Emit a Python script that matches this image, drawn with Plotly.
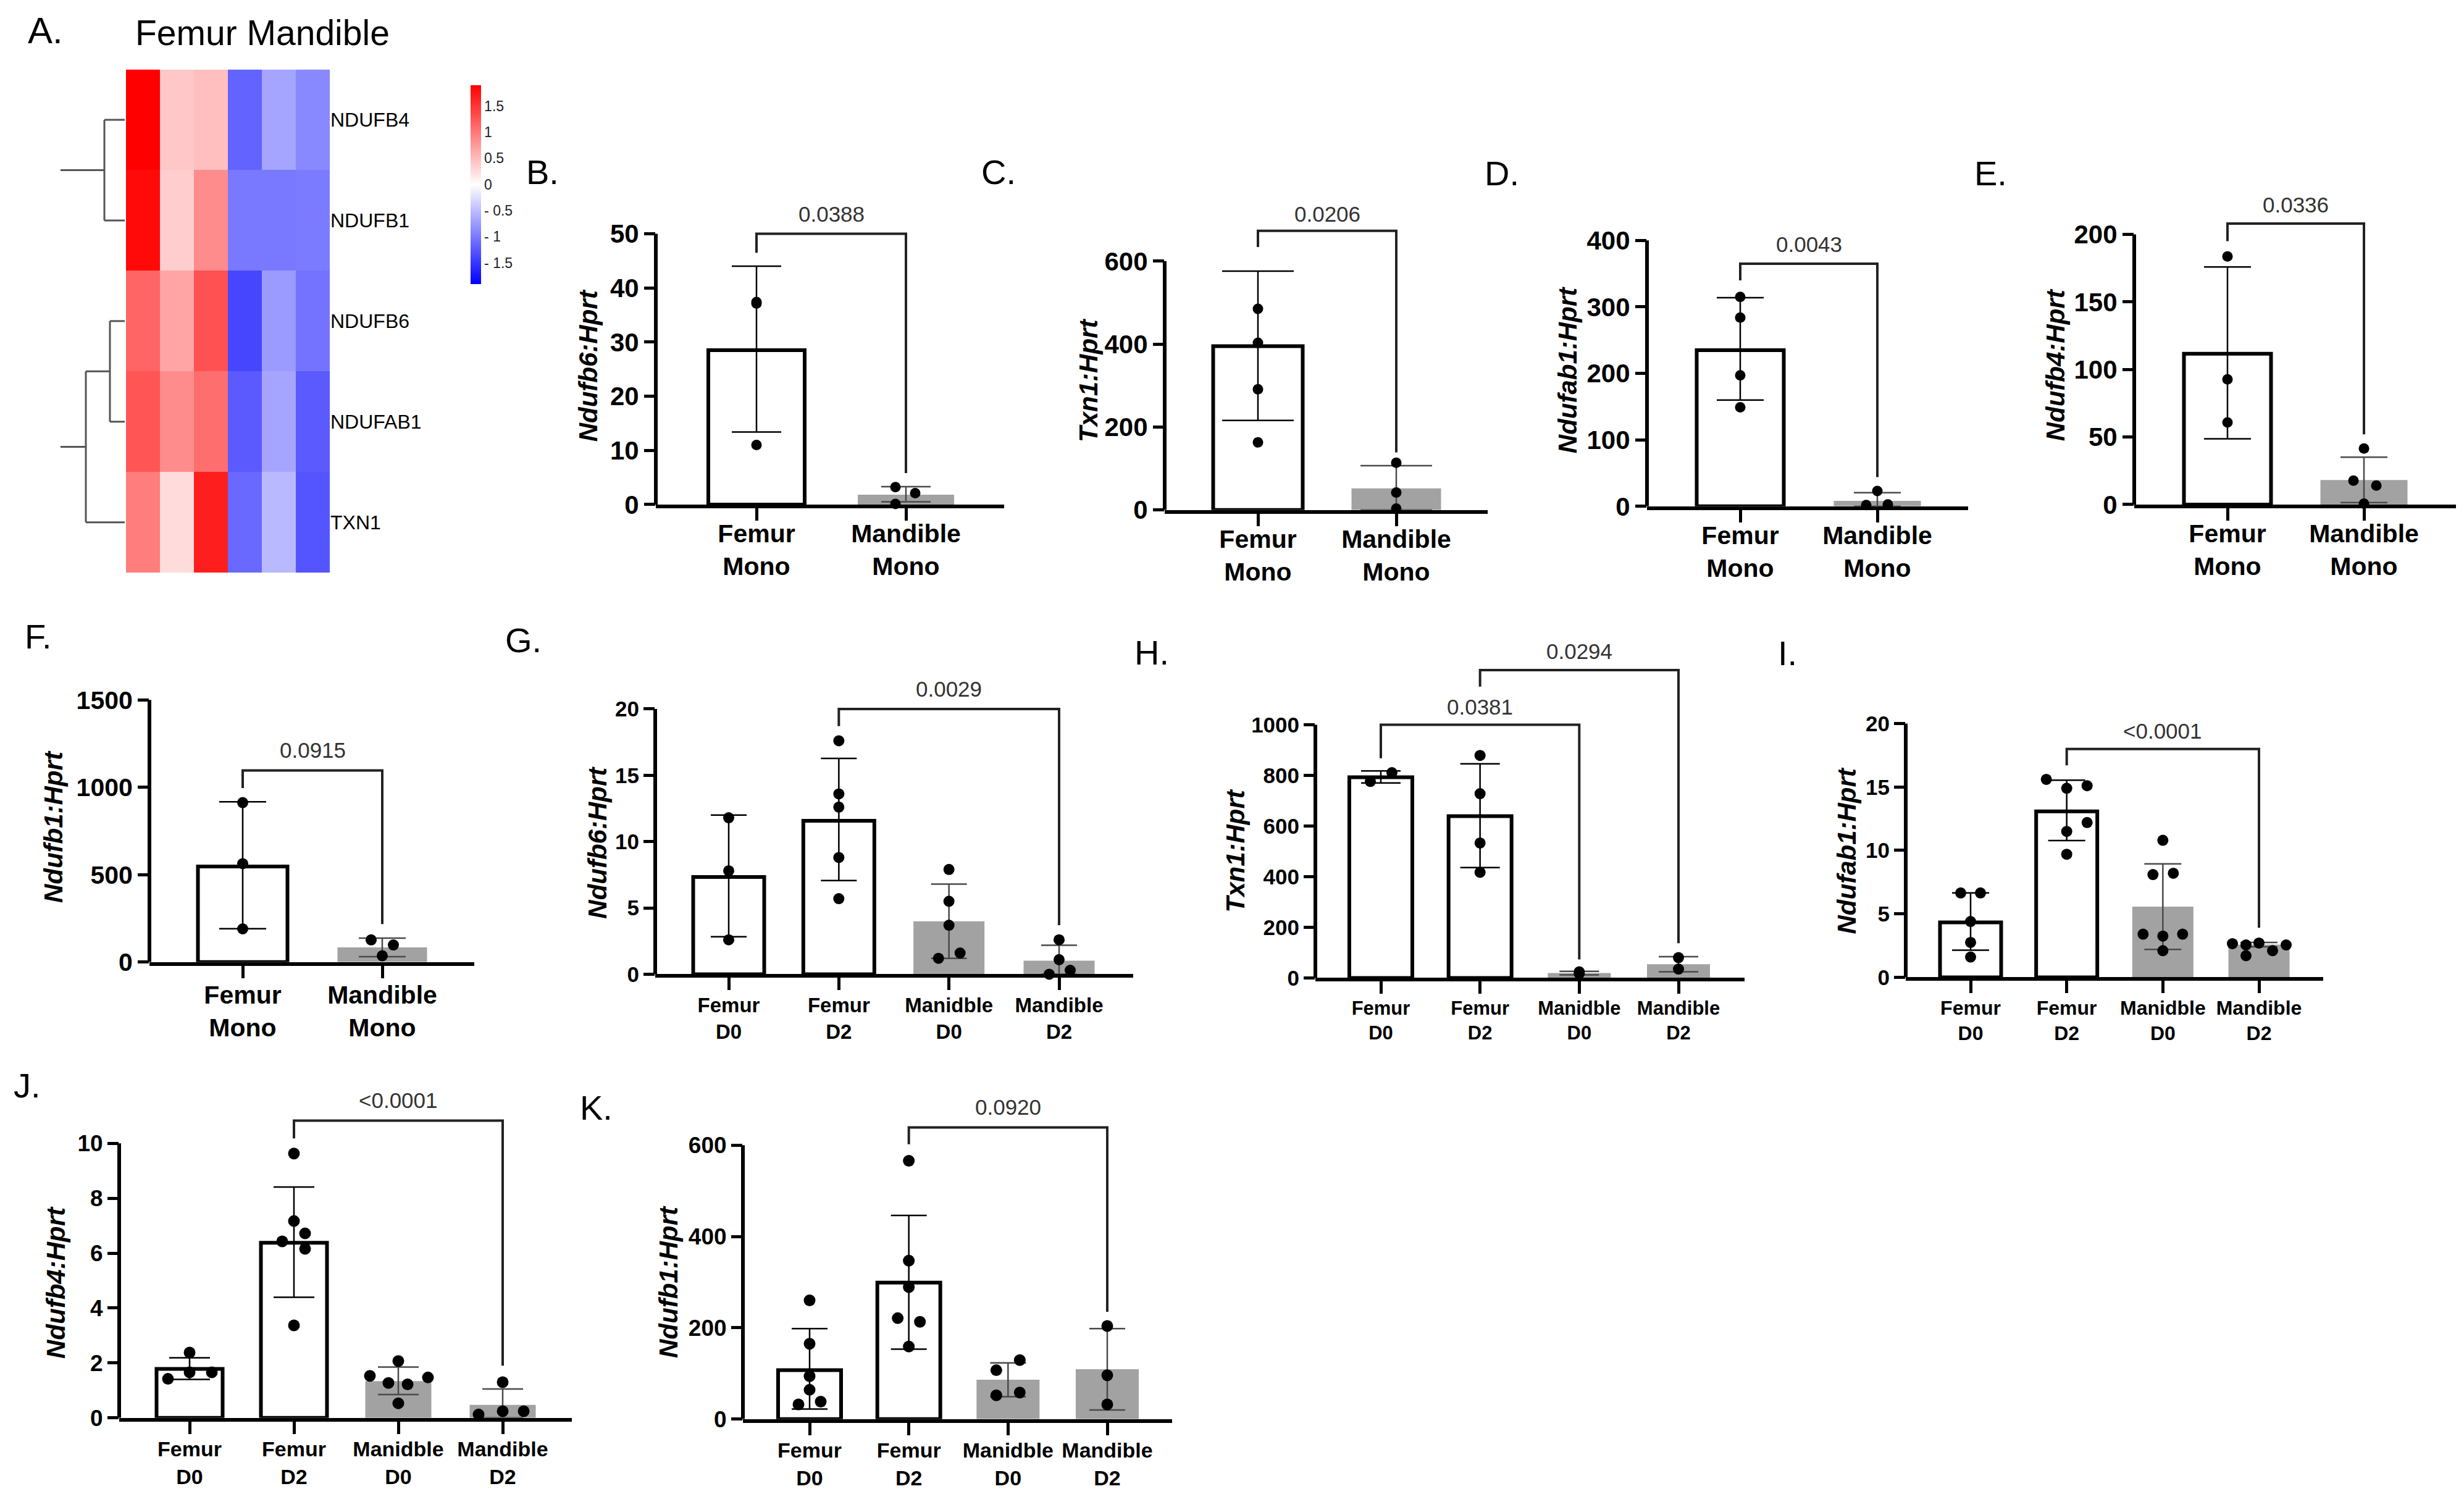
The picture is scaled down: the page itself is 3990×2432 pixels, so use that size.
import plotly.graph_objects as go

W, H = 3990, 2432
FONT = "Liberation Sans, Arial, Helvetica, sans-serif"

# ---------------- heatmap data (panel A) ----------------
genes = ["NDUFB4", "NDUFB1", "NDUFB6", "NDUFAB1", "TXN1"]
heat_z = [
    [1.90, 0.42, 0.48, -1.16, -0.67, -0.89],
    [1.83, 0.37, 0.86, -1.00, -1.00, -0.98],
    [1.15, 0.67, 1.30, -1.38, -0.75, -1.04],
    [1.27, 0.86, 1.08, -1.23, -0.67, -1.23],
    [0.97, 0.26, 1.68, -1.12, -0.52, -1.27],
]
cbar_vals = [1.5, 1, 0.5, 0, -0.5, -1, -1.5]
cbar_text = ["1.5", "1", "0.5", "0", "- 0.5", "- 1", "- 1.5"]
dend_merges = [(0, 1, 3.3), (2, 3, 2.4), (6, 4, 6.3)]   # leaves 0-4, clusters 5,6,7
dend_root = 10.4

# ---------------- bar chart data ----------------
mono_labels = ["Femur<br>Mono", "Mandible<br>Mono"]
day_labels = ["Femur<br>D0", "Femur<br>D2", "Manidble<br>D0", "Mandible<br>D2"]

B_mean = [28.5, 1.8]
B_hi = [44.0, 3.3]
B_lo = [13.4, 0.5]
B_pts = [[37.4, 37.1, 11.0], [3.2, 2.1, 0.1]]

C_mean = [395, 52]
C_hi = [576, 107]
C_lo = [216, 0]
C_pts = [[485, 403, 291, 163], [114, 42, 3.5]]

D_mean = [235, 8.3]
D_hi = [314, 20.6]
D_lo = [160, 0]
D_pts = [[315, 284, 197, 149], [23, 2, 3]]

E_mean = [111.6, 18.1]
E_hi = [175.9, 35.1]
E_lo = [48.7, 1.5]
E_pts = [[183.6, 92.7, 60.8], [41.4, 17.7, 14.0, 0.6]]

F_mean = [547, 84]
F_hi = [917, 137]
F_lo = [191, 31]
F_pts = [[912, 563, 190], [127, 98, 36]]

G_mean = [7.33, 11.57, 3.99, 1.02]
G_hi = [12.0, 16.27, 6.8, 2.19]
G_lo = [2.83, 7.06, 1.2, 0]
G_pts = [[11.8, 7.8, 2.6], [17.6, 13.6, 12.6, 8.8, 5.7],
         [7.9, 5.5, 3.7, 1.2, 1.6], [2.6, 1.1, 0.0, 0.3]]

H_mean = [793, 639, 19, 54]
H_hi = [818, 846, 26, 84]
H_lo = [770, 436, 12, 24]
H_pts = [[776, 811], [879, 728, 533, 417], [24, 17], [80, 35]]

I_mean = [4.33, 13.08, 5.57, 2.57]
I_hi = [6.65, 15.54, 8.94, 2.74]
I_lo = [2.14, 10.78, 2.2, 2.4]
I_pts = [[6.65, 6.65, 4.4, 2.75, 1.6], [15.6, 15.1, 14.9, 12.2, 11.5, 9.7],
         [10.8, 8.1, 8.2, 3.4, 3.25, 3.4, 2.1], [2.65, 2.55, 2.7, 2.1, 2.55, 1.7]]

J_mean = [1.78, 6.38, 1.34, 0.47]
J_hi = [2.19, 8.41, 1.85, 1.05]
J_lo = [1.40, 4.39, 0.85, 0.0]
J_pts = [[2.38, 1.42, 1.66, 1.66], [9.63, 7.17, 6.72, 6.43, 6.16, 3.37],
         [2.07, 1.53, 1.47, 1.27, 1.22, 0.53], [1.3, 0.24, 0.24, 0.12]]

K_mean = [107, 299, 86, 109]
K_hi = [198, 446, 123, 198]
K_lo = [22, 153, 49, 20]
K_pts = [[260, 165, 94, 64, 38, 32], [566, 347, 289, 221, 213, 159],
         [129, 107, 58, 52], [204, 96, 32]]

# p-value labels
B_p = ["0.0388"]
C_p = ["0.0206"]
D_p = ["0.0043"]
E_p = ["0.0336"]
F_p = ["0.0915"]
G_p = ["0.0029"]
H_p = ["0.0381", "0.0294"]
I_p = ["&lt;0.0001"]
J_p = ["&lt;0.0001"]
K_p = ["0.0920"]

# ---------------- layout / style (positions, not data) ----------------
# point horizontal offsets in px (scatter-dot spreading)
B_jit = [[0, 0, 0], [-17, 15, -17]]
C_jit = [[0, 0, 0, 0], [0, 0, 0]]
D_jit = [[0, 0, 0, 0], [0, -18, 17]]
E_jit = [[0, 0, 0], [0, -17, 20, 0]]
F_jit = [[0, 0, 0], [-18, 18, 0]]
G_jit = [[0, 0, 0], [0, 0, 0, 0, 0], [0, 0, 0, -17, 18], [0, 0, -16, 18]]
H_jit = [[-17, 18], [0, 0, 0, 0], [0, 0], [0, 0]]
I_jit = [[-16, 16, 0, 0, 0], [-33, 33, 0, 33, 0, 0],
         [0, -16, 17, -32, 0, 32, 0], [-43, -21, 0, 22, 44, -21]]
J_jit = [[0, -35, 0, 36], [0, 0, 18, -19, 18, 0], [0, -46, 48, -16, 15, 0], [0, 34, 0, -39]]
K_jit = [[0, 0, 0, 0, 18, -18], [0, 0, 0, -18, 18, 0], [19, -19, 19, -19], [0, 0, 0]]

# brackets: (i1, i2, y_bar, left_leg_end, right_leg_end, y_text)
B_brk = [(0, 1, 50, 46.5, 5.8, 53.7)]
C_brk = [(0, 1, 673, 634, 139, 714)]
D_brk = [(0, 1, 365, 340, 44, 394)]
E_brk = [(0, 1, 208, 195, 52, 222)]
F_brk = [(0, 1, 1096, 995, 217, 1211)]
G_brk = [(1, 3, 20, 18.7, 3.7, 21.5)]
H_brk = [(0, 2, 1000, 868, 73, 1071), (1, 3, 1216, 1151, 137, 1291)]
I_brk = [(1, 3, 18.0, 16.7, 3.9, 19.4)]
J_brk = [(1, 3, 10.83, 10.18, 1.9, 11.58)]
K_brk = [(1, 3, 639, 602, 235, 684)]

panels = [
    dict(ylab="Ndufb6:Hprt", cats=mono_labels, mean=B_mean, hi=B_hi, lo=B_lo, pts=B_pts, jit=B_jit,
         brk=B_brk, pv=B_p, tmax=50, dt=10, xl=1062, xr=1626, y0=817, yt=372, cx=[1225, 1467],
         bw=156, cap=40, dot=17, tf=42, cf=41, tt=(952, 589), so=-14),
    dict(ylab="Txn1:Hprt", cats=mono_labels, mean=C_mean, hi=C_hi, lo=C_lo, pts=C_pts, jit=C_jit,
         brk=C_brk, pv=C_p, tmax=600, dt=200, xl=1886, xr=2409, y0=826, yt=417, cx=[2037, 2261],
         bw=145, cap=58, dot=17, tf=42, cf=41, tt=(1763, 613), so=-14),
    dict(ylab="Ndufab1:Hprt", cats=mono_labels, mean=D_mean, hi=D_hi, lo=D_lo, pts=D_pts, jit=D_jit,
         brk=D_brk, pv=D_p, tmax=400, dt=100, xl=2667, xr=3187, y0=820, yt=383, cx=[2818, 3040],
         bw=141, cap=38, dot=17, tf=42, cf=41, tt=(2538, 596), so=-14),
    dict(ylab="Ndufb4:Hprt", cats=mono_labels, mean=E_mean, hi=E_hi, lo=E_lo, pts=E_pts, jit=E_jit,
         brk=E_brk, pv=E_p, tmax=200, dt=50, xl=3456, xr=3977, y0=817, yt=373, cx=[3607, 3828],
         bw=141, cap=38, dot=17, tf=42, cf=41, tt=(3328, 588), so=-14),
    dict(ylab="Ndufb1:Hprt", cats=mono_labels, mean=F_mean, hi=F_hi, lo=F_lo, pts=F_pts, jit=F_jit,
         brk=F_brk, pv=F_p, tmax=1500, dt=500, xl=242, xr=768, y0=1569, yt=1138, cx=[393, 619],
         bw=145, cap=38, dot=18, tf=41, cf=41, tt=(86, 1347), so=-8),
    dict(ylab="Ndufb6:Hprt", cats=day_labels, mean=G_mean, hi=G_hi, lo=G_lo, pts=G_pts, jit=G_jit,
         brk=G_brk, pv=G_p, tmax=20, dt=5, xl=1061, xr=1835, y0=1589, yt=1153,
         cx=[1180, 1358, 1537, 1715], bw=115, cap=29, dot=18, tf=35, cf=33, tt=(968, 1373), so=-4),
    dict(ylab="Txn1:Hprt", cats=day_labels, mean=H_mean, hi=H_hi, lo=H_lo, pts=H_pts, jit=H_jit,
         brk=H_brk, pv=H_p, tmax=1000, dt=200, xl=2130, xr=2825, y0=1595, yt=1179,
         cx=[2236, 2396, 2558, 2718], bw=102, cap=32, dot=18, tf=35, cf=31, tt=(2000, 1386), so=-4),
    dict(ylab="Ndufab1:Hprt", cats=day_labels, mean=I_mean, hi=I_hi, lo=I_lo, pts=I_pts, jit=I_jit,
         brk=I_brk, pv=I_p, tmax=20, dt=5, xl=3086, xr=3762, y0=1594, yt=1177,
         cx=[3191, 3347, 3502, 3658], bw=99, cap=30, dot=18, tf=35, cf=32, tt=(2990, 1386), so=-4),
    dict(ylab="Ndufb4:Hprt", cats=day_labels, mean=J_mean, hi=J_hi, lo=J_lo, pts=J_pts, jit=J_jit,
         brk=J_brk, pv=J_p, tmax=10, dt=2, xl=193, xr=926, y0=2318, yt=1867,
         cx=[307, 476, 644, 814], bw=107, cap=33, dot=19, tf=37, cf=34, tt=(91, 2096), so=-4),
    dict(ylab="Ndufb1:Hprt", cats=day_labels, mean=K_mean, hi=K_hi, lo=K_lo, pts=K_pts, jit=K_jit,
         brk=K_brk, pv=K_p, tmax=600, dt=200, xl=1203, xr=1898, y0=2320, yt=1870,
         cx=[1311, 1471, 1631, 1793], bw=102, cap=29, dot=19, tf=37, cf=34, tt=(1083, 2095), so=-4),
]

letters = [("B.", 850, 270), ("C.", 1587, 270), ("D.", 2402, 273), ("E.", 3195, 273),
           ("F.", 38, 1034), ("G.", 816, 1040), ("H.", 1835, 1060), ("I.", 2877, 1061),
           ("J.", 20, 1772), ("K.", 937, 1808)]

GRAY = "#a2a2a2"


def py(p):
    return 1 - p / H


fig = go.Figure()
layout = dict(width=W, height=H, margin=dict(l=0, r=0, t=0, b=0),
              paper_bgcolor="white", plot_bgcolor="rgba(0,0,0,0)", showlegend=False,
              font=dict(family=FONT, color="black"))
shapes, annotations = [], []

# ---------------- Panel A heatmap ----------------
fig.add_trace(go.Heatmap(
    z=heat_z, x=list(range(6)), y=list(range(len(genes))),
    colorscale=[[0, "rgb(0,0,255)"], [0.5, "rgb(255,255,255)"], [1, "rgb(255,0,0)"]],
    zmin=-1.9, zmax=1.9, xaxis="x", yaxis="y", hoverinfo="skip",
    colorbar=dict(x=762 / W, xanchor="left", y=py(291), yanchor="middle",
                  len=322, lenmode="pixels", thickness=17, thicknessmode="pixels",
                  xpad=0, ypad=0, outlinewidth=0, tickvals=cbar_vals, ticktext=cbar_text,
                  ticks="", tickfont=dict(size=23, family=FONT, color="#222"))))
layout["xaxis"] = dict(domain=[204 / W, 534 / W], range=[-0.5, 5.5], visible=False, anchor="y")
layout["yaxis"] = dict(domain=[py(929), py(102)], range=[4.5, -0.5], side="right", anchor="x",
                       tickvals=list(range(len(genes))), ticktext=genes, ticks="",
                       showline=False, showgrid=False, zeroline=False,
                       tickfont=dict(size=32, family=FONT, color="black"))

# dendrogram
pos = {i: float(i) for i in range(len(genes))}
hgt = {i: 0.0 for i in range(len(genes))}
dx, dy = [], []
used = set()
for k, (a, b, h) in enumerate(dend_merges):
    cid = len(genes) + k
    for c in (a, b):
        dx += [hgt[c], h, None]
        dy += [pos[c], pos[c], None]
        used.add(c)
    dx += [h, h, None]
    dy += [pos[a], pos[b], None]
    pos[cid] = (pos[a] + pos[b]) / 2
    hgt[cid] = h
for cid in pos:
    if cid not in used and cid >= len(genes):
        dx += [hgt[cid], dend_root, None]
        dy += [pos[cid], pos[cid], None]
fig.add_trace(go.Scatter(x=dx, y=dy, mode="lines", line=dict(color="#555", width=3),
                         xaxis="x2", yaxis="y2", hoverinfo="skip"))
layout["xaxis2"] = dict(domain=[96 / W, 202 / W], range=[dend_root + 0.2, 0], visible=False, anchor="y2")
layout["yaxis2"] = dict(domain=[py(929), py(102)], range=[4.5, -0.5], visible=False, anchor="x2")

annotations.append(dict(text="Femur Mandible", x=217 / W, y=py(42), xref="paper", yref="paper",
                        xanchor="left", yanchor="middle", showarrow=False,
                        font=dict(size=57, family=FONT, color="black")))
annotations.append(dict(text="A.", x=43 / W, y=py(38), xref="paper", yref="paper",
                        xanchor="left", yanchor="middle", showarrow=False,
                        font=dict(size=60, family=FONT, color="black")))

# ---------------- bar panels ----------------
for k, p in enumerate(panels):
    ax = k + 3
    xa, ya = f"x{ax}", f"y{ax}"
    n = len(p["cats"])
    sp = (p["cx"][-1] - p["cx"][0]) / (n - 1)
    xr = [(p["xl"] - p["cx"][0]) / sp, (n - 1) + (p["xr"] - p["cx"][-1]) / sp]
    top_val = max([p["tmax"]] + [b[2] for b in p["brk"]]) * 1.025
    pxv = (p["y0"] - p["yt"]) / p["tmax"]          # px per data unit
    ytop_px = p["y0"] - pxv * top_val
    femur = [("Femur" in c) for c in p["cats"]]
    idx = list(range(n))

    fig.add_trace(go.Bar(
        x=idx, y=p["mean"], width=p["bw"] / sp, xaxis=xa, yaxis=ya, hoverinfo="skip",
        marker=dict(color=["white" if f else GRAY for f in femur],
                    line=dict(color="black", width=[6 if f else 0 for f in femur]))))
    for i in idx:
        m = p["mean"][i]
        fig.add_trace(go.Scatter(
            x=[i], y=[m], mode="markers", marker=dict(size=1, opacity=0), xaxis=xa, yaxis=ya,
            hoverinfo="skip", cliponaxis=True,
            error_y=dict(type="data", symmetric=False, array=[p["hi"][i] - m],
                         arrayminus=[m - p["lo"][i]], thickness=2.5, width=p["cap"],
                         color="black" if femur[i] else "#4a4a4a")))
    px_, py_ = [], []
    for i in idx:
        for v, o in zip(p["pts"][i], p["jit"][i]):
            px_.append(i + o / sp)
            py_.append(v)
    fig.add_trace(go.Scatter(x=px_, y=py_, mode="markers", xaxis=xa, yaxis=ya, hoverinfo="skip",
                             cliponaxis=False, marker=dict(size=p["dot"], color="black")))

    layout[f"xaxis{ax}"] = dict(
        domain=[p["xl"] / W, p["xr"] / W], range=xr, anchor=ya,
        tickvals=idx, ticktext=p["cats"], ticks="outside", ticklen=20, tickwidth=5,
        tickcolor="black", showline=True, linewidth=6, linecolor="black",
        showgrid=False, zeroline=False, ticklabelstandoff=p["so"],
        tickfont=dict(size=p["cf"], family=FONT, color="black", weight="bold"))
    layout[f"yaxis{ax}"] = dict(
        domain=[py(p["y0"]), py(ytop_px)], range=[0, top_val], anchor=xa,
        tickvals=[p["dt"] * j for j in range(int(round(p["tmax"] / p["dt"])) + 1)],
        ticks="outside", ticklen=18, tickwidth=5, tickcolor="black",
        showline=False, showgrid=False, zeroline=False,
        tickfont=dict(size=p["tf"], family=FONT, color="black", weight="bold"))
    # y axis line only up to top tick
    shapes.append(dict(type="line", xref=f"{xa} domain", yref=ya, x0=0, x1=0, y0=0,
                       y1=p["tmax"], line=dict(color="black", width=6)))
    # brackets + p-values
    for (i1, i2, yb, l1, l2, yt), lab in zip(p["brk"], p["pv"]):
        shapes.append(dict(type="path", xref=xa, yref=ya,
                           path=f"M {i1},{l1} L {i1},{yb} L {i2},{yb} L {i2},{l2}",
                           line=dict(color="#222", width=4)))
        xc_px = p["cx"][0] + sp * (i1 + i2) / 2
        yc_px = p["y0"] - pxv * yt
        annotations.append(dict(text=lab, x=xc_px / W, y=py(yc_px), xref="paper", yref="paper",
                                showarrow=False, xanchor="center", yanchor="middle",
                                font=dict(size=35, family=FONT, color="#333")))
    # y title
    annotations.append(dict(text=f"<b><i>{p['ylab']}</i></b>", x=p["tt"][0] / W, y=py(p["tt"][1]),
                            xref="paper", yref="paper", textangle=-90, showarrow=False,
                            xanchor="center", yanchor="middle",
                            font=dict(size=42, family=FONT, color="black")))

for t, x, y in letters:
    annotations.append(dict(text=t, x=x / W, y=py(y), xref="paper", yref="paper",
                            xanchor="left", yanchor="middle", showarrow=False,
                            font=dict(size=56, family=FONT, color="black")))

layout["shapes"] = shapes
layout["annotations"] = annotations
fig.update_layout(**layout)
fig.write_html("out.html", config={"displayModeBar": False},
               post_script="document.body.style.margin='0';document.body.style.overflow='hidden';")
